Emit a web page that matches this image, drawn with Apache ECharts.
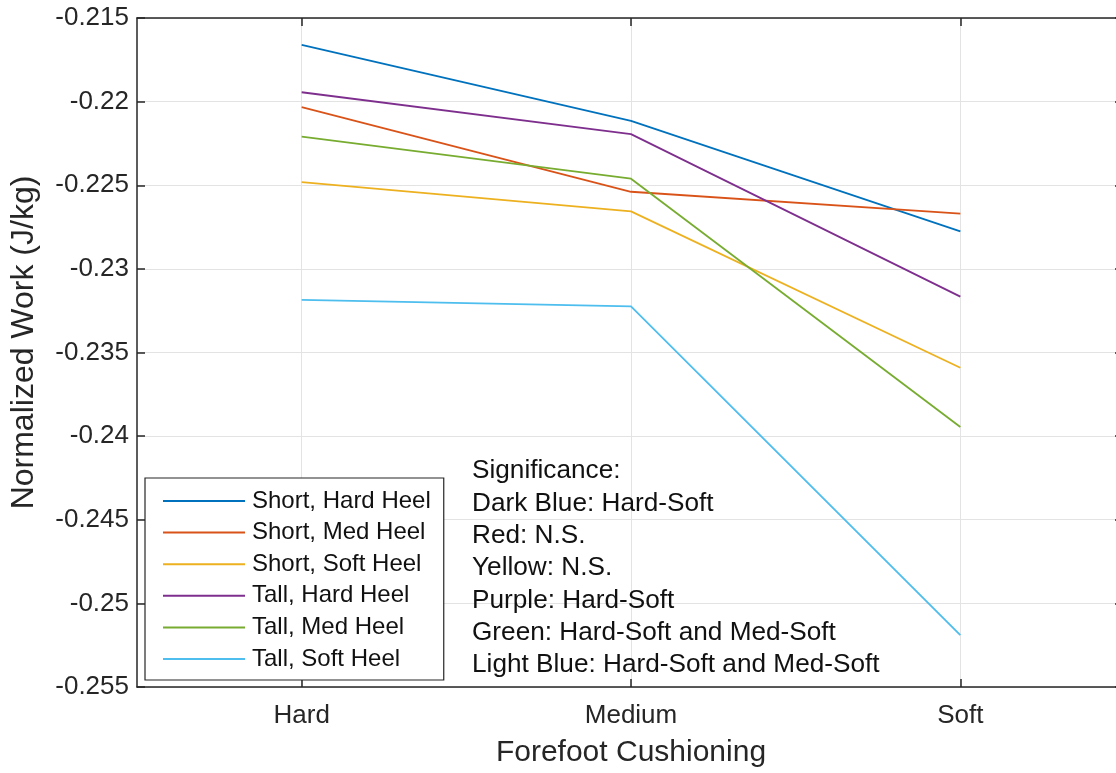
<!DOCTYPE html>
<html>
<head>
<meta charset="utf-8">
<title>Normalized Work vs Forefoot Cushioning</title>
<script src="https://cdn.jsdelivr.net/npm/echarts@6/dist/echarts.min.js"></script>
<style>
  html, body { margin: 0; padding: 0; background: #fff; overflow: hidden; }
  /* canvas is a little wider than the page so the right edge of the plot box falls just outside */
  #chart { width: 1125px; height: 773px; }
</style>
</head>
<body>
<div id="chart"></div>
<script>
// Forefoot cushioning conditions on the x axis
const categories = ['Hard', 'Medium', 'Soft'];

// Normalized work (J/kg) per heel condition
const shortHardHeel = [-0.21661, -0.22115, -0.22776];
const shortMedHeel  = [-0.22033, -0.22539, -0.22670];
const shortSoftHeel = [-0.22481, -0.22656, -0.23591];
const tallHardHeel  = [-0.21944, -0.22194, -0.23166];
const tallMedHeel   = [-0.22209, -0.22461, -0.23946];
const tallSoftHeel  = [-0.23185, -0.23224, -0.25190];

const seriesNames = [
  'Short, Hard Heel', 'Short, Med Heel', 'Short, Soft Heel',
  'Tall, Hard Heel', 'Tall, Med Heel', 'Tall, Soft Heel'
];
const seriesValues = [shortHardHeel, shortMedHeel, shortSoftHeel, tallHardHeel, tallMedHeel, tallSoftHeel];
const seriesColors = ['#0072BD', '#D95319', '#EDB120', '#7E2F8E', '#77AC30', '#4DBEEE'];

// Y axis range and tick step
const yMin = -0.255;
const yMax = -0.215;
const yStep = 0.005;

// Significance notes
const significanceLines = [
  'Significance:',
  'Dark Blue: Hard-Soft',
  'Red: N.S.',
  'Yellow: N.S.',
  'Purple: Hard-Soft',
  'Green: Hard-Soft and Med-Soft',
  'Light Blue: Hard-Soft and Med-Soft'
];

const FONT = '"Liberation Sans", Arial, Helvetica, sans-serif';
const INK = '#262626';
const GRID = '#e3e3e3';

const chart = echarts.init(document.getElementById('chart'), null, { renderer: 'canvas' });

const fmtY = v => String(parseFloat(Number(v).toFixed(3)));

const option = {
  backgroundColor: '#fff',
  animation: false,
  textStyle: { fontFamily: FONT },
  grid: { left: 135, top: 18, right: 0, bottom: 85, containLabel: false },
  legend: {
    data: seriesNames,
    orient: 'vertical',
    left: 145,
    top: 478,
    icon: 'rect',
    itemWidth: 82,
    itemHeight: 2,
    itemGap: 7.6,
    padding: [11, 13, 9, 18],
    backgroundColor: '#fff',
    borderColor: INK,
    borderWidth: 1.2,
    borderRadius: 0,
    selectedMode: false,
    textStyle: { fontFamily: FONT, fontSize: 24, color: '#111', lineHeight: 24, padding: [0, 0, 0, 2] }
  },
  xAxis: [
    {
      type: 'category',
      data: categories,
      boundaryGap: true,
      position: 'bottom',
      name: 'Forefoot Cushioning',
      nameLocation: 'middle',
      nameGap: 51,
      nameTextStyle: { fontFamily: FONT, fontSize: 30, color: INK },
      axisLine: { show: true, onZero: false, lineStyle: { color: INK, width: 1.5 } },
      axisTick: { show: true, inside: true, length: 8, alignWithLabel: true, lineStyle: { color: INK, width: 1.5 } },
      axisLabel: { fontFamily: FONT, fontSize: 26, color: INK, margin: 16 },
      splitLine: { show: true, alignWithLabel: true, lineStyle: { color: GRID, width: 1 } }
    },
    {
      type: 'category',
      data: categories,
      boundaryGap: true,
      position: 'top',
      axisLine: { show: true, onZero: false, lineStyle: { color: INK, width: 1.5 } },
      axisTick: { show: true, inside: true, length: 8, alignWithLabel: true, lineStyle: { color: INK, width: 1.5 } },
      axisLabel: { show: false },
      splitLine: { show: false }
    }
  ],
  yAxis: [
    {
      type: 'value',
      min: yMin,
      max: yMax,
      interval: yStep,
      position: 'left',
      name: 'Normalized Work (J/kg)',
      nameLocation: 'middle',
      nameGap: 97,
      nameTextStyle: { fontFamily: FONT, fontSize: 32, color: INK, padding: [0, 0, 0, 20] },
      axisLine: { show: true, onZero: false, lineStyle: { color: INK, width: 1.5 } },
      axisTick: { show: true, inside: true, length: 8, lineStyle: { color: INK, width: 1.5 } },
      axisLabel: { fontFamily: FONT, fontSize: 26, color: INK, margin: 8, formatter: fmtY },
      splitLine: { show: true, lineStyle: { color: GRID, width: 1 } }
    },
    {
      type: 'value',
      min: yMin,
      max: yMax,
      interval: yStep,
      position: 'right',
      axisLine: { show: true, onZero: false, lineStyle: { color: INK, width: 1.5 } },
      axisTick: { show: true, inside: true, length: 10, lineStyle: { color: INK, width: 1.5 } },
      axisLabel: { show: false },
      splitLine: { show: false }
    }
  ],
  graphic: [
    {
      type: 'text',
      left: 472,
      top: 455,
      z: 50,
      style: {
        text: significanceLines.join('\n'),
        fontFamily: FONT,
        fontSize: 26.2,
        lineHeight: 32.3,
        fill: '#111'
      }
    }
  ],
  series: seriesNames.map((name, i) => ({
    name,
    type: 'line',
    xAxisIndex: 0,
    yAxisIndex: 0,
    data: seriesValues[i],
    symbol: 'none',
    showSymbol: false,
    lineStyle: { color: seriesColors[i], width: 1.8 },
    itemStyle: { color: seriesColors[i] },
    emphasis: { disabled: true },
    z: 3
  }))
};

chart.setOption(option);
</script>
</body>
</html>
